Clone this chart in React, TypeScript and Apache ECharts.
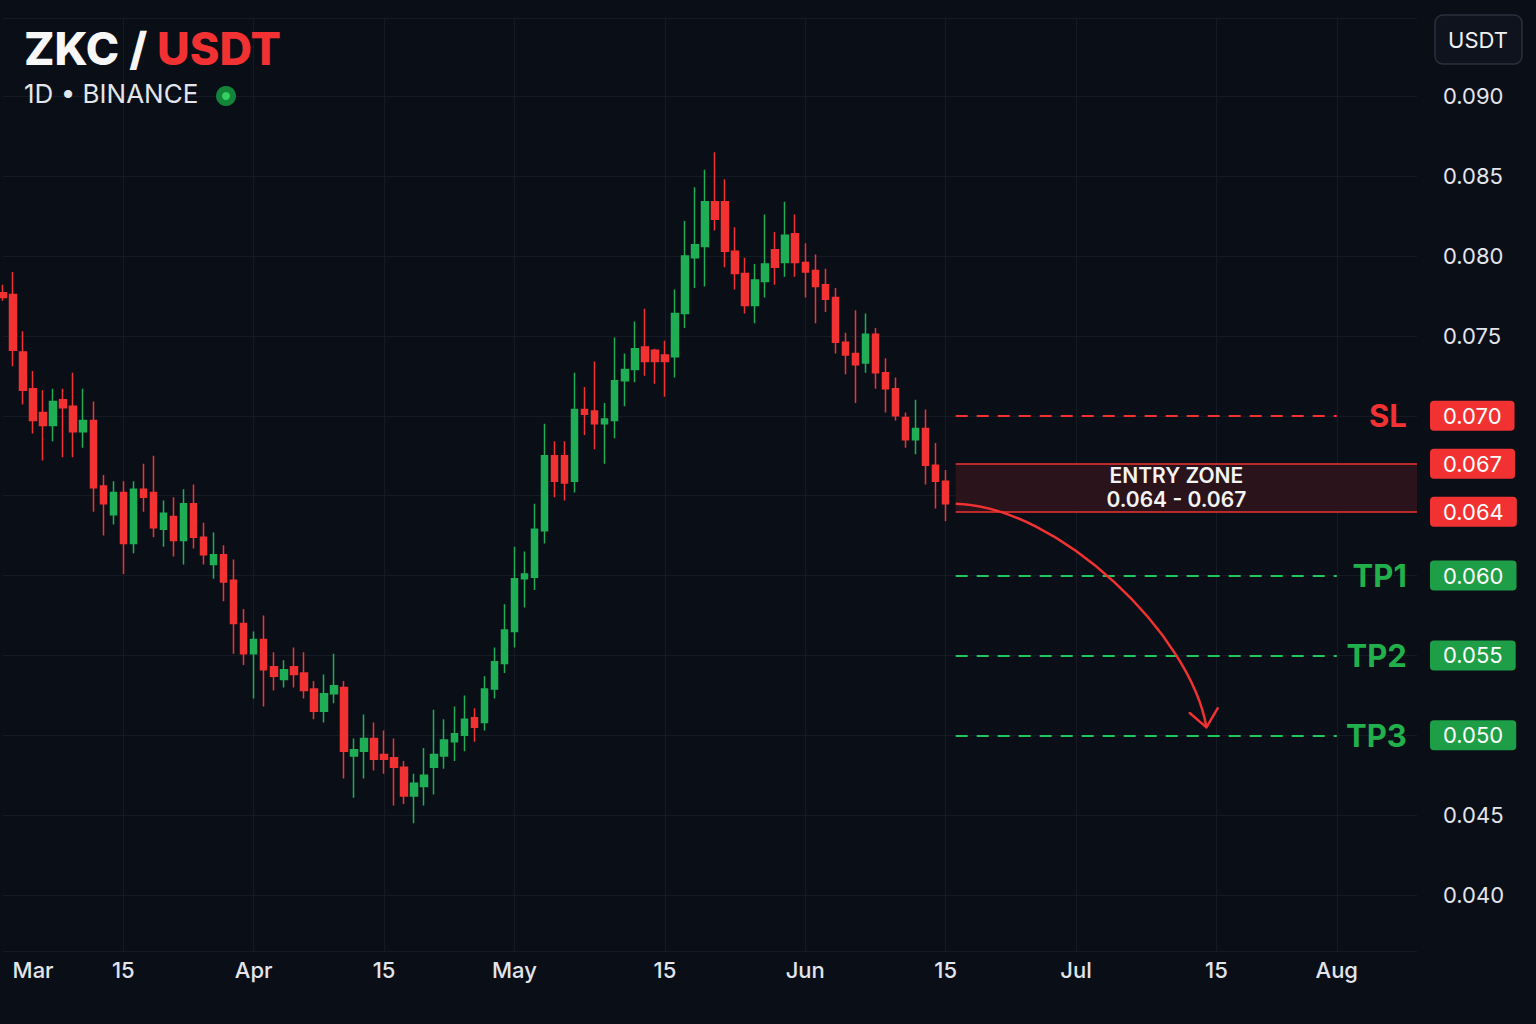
import React, { useEffect, useRef } from 'react';
import * as echarts from 'echarts';

// ---- data (USDT prices, one candle per slot) ----
const opens = [
  0.0777, 0.0776, 0.0740, 0.0717, 0.0702, 0.0694, 0.0710, 0.0706, 0.0690, 0.0697,
  0.0656, 0.0638, 0.0652, 0.0620, 0.0654, 0.0652, 0.0629, 0.0637, 0.0622, 0.0645,
  0.0624, 0.0607, 0.0613, 0.0597, 0.0570, 0.0551, 0.0560, 0.0543, 0.0535, 0.0543,
  0.0539, 0.0529, 0.0515, 0.0526, 0.0530, 0.0487, 0.0490, 0.0498, 0.0488, 0.0486,
  0.0480, 0.0462, 0.0468, 0.0480, 0.0487, 0.0496, 0.0500, 0.0511, 0.0508, 0.0529,
  0.0545, 0.0565, 0.0598, 0.0599, 0.0628, 0.0675, 0.0675, 0.0659, 0.0704, 0.0703,
  0.0695, 0.0697, 0.0722, 0.0729, 0.0743, 0.0741, 0.0738, 0.0737, 0.0764, 0.0799,
  0.0806, 0.0834, 0.0834, 0.0803, 0.0789, 0.0769, 0.0784, 0.0804, 0.0796, 0.0814,
  0.0796, 0.0791, 0.0782, 0.0774, 0.0746, 0.0739, 0.0733, 0.0751, 0.0727, 0.0717,
  0.0699, 0.0685, 0.0692, 0.0669, 0.0659,
];
const closes = [
  0.0774, 0.0741, 0.0716, 0.0697, 0.0694, 0.0709, 0.0705, 0.0690, 0.0697, 0.0655,
  0.0645, 0.0652, 0.0620, 0.0654, 0.0649, 0.0630, 0.0639, 0.0622, 0.0645, 0.0624,
  0.0613, 0.0613, 0.0596, 0.0570, 0.0551, 0.0560, 0.0541, 0.0537, 0.0541, 0.0538,
  0.0528, 0.0515, 0.0526, 0.0531, 0.0490, 0.0491, 0.0498, 0.0485, 0.0485, 0.0480,
  0.0462, 0.0470, 0.0475, 0.0488, 0.0497, 0.0501, 0.0510, 0.0505, 0.0529, 0.0546,
  0.0566, 0.0598, 0.0601, 0.0629, 0.0675, 0.0659, 0.0658, 0.0704, 0.0701, 0.0695,
  0.0698, 0.0722, 0.0729, 0.0742, 0.0734, 0.0734, 0.0734, 0.0764, 0.0800, 0.0807,
  0.0834, 0.0823, 0.0803, 0.0789, 0.0769, 0.0785, 0.0795, 0.0793, 0.0813, 0.0796,
  0.0790, 0.0781, 0.0773, 0.0746, 0.0738, 0.0732, 0.0751, 0.0727, 0.0717, 0.0700,
  0.0685, 0.0692, 0.0669, 0.0659, 0.0645,
];
const lows = [
  0.0772, 0.0731, 0.0707, 0.0689, 0.0672, 0.0684, 0.0674, 0.0674, 0.0680, 0.0640,
  0.0625, 0.0632, 0.0601, 0.0614, 0.0640, 0.0624, 0.0618, 0.0612, 0.0607, 0.0617,
  0.0607, 0.0598, 0.0584, 0.0551, 0.0544, 0.0523, 0.0518, 0.0528, 0.0530, 0.0530,
  0.0523, 0.0510, 0.0508, 0.0520, 0.0473, 0.0461, 0.0473, 0.0478, 0.0476, 0.0456,
  0.0457, 0.0445, 0.0456, 0.0463, 0.0479, 0.0484, 0.0490, 0.0496, 0.0503, 0.0523,
  0.0539, 0.0555, 0.0580, 0.0591, 0.0620, 0.0649, 0.0647, 0.0652, 0.0688, 0.0679,
  0.0670, 0.0686, 0.0706, 0.0721, 0.0725, 0.0720, 0.0712, 0.0724, 0.0755, 0.0780,
  0.0781, 0.0816, 0.0793, 0.0779, 0.0764, 0.0758, 0.0774, 0.0782, 0.0787, 0.0787,
  0.0774, 0.0758, 0.0765, 0.0739, 0.0726, 0.0708, 0.0727, 0.0717, 0.0702, 0.0697,
  0.0680, 0.0676, 0.0657, 0.0642, 0.0634,
];
const highs = [
  0.0782, 0.0790, 0.0753, 0.0728, 0.0716, 0.0717, 0.0717, 0.0727, 0.0717, 0.0709,
  0.0663, 0.0659, 0.0659, 0.0659, 0.0670, 0.0675, 0.0647, 0.0649, 0.0654, 0.0657,
  0.0633, 0.0627, 0.0619, 0.0610, 0.0579, 0.0565, 0.0575, 0.0552, 0.0547, 0.0555,
  0.0552, 0.0534, 0.0538, 0.0551, 0.0534, 0.0498, 0.0513, 0.0508, 0.0503, 0.0498,
  0.0484, 0.0476, 0.0492, 0.0516, 0.0510, 0.0518, 0.0525, 0.0517, 0.0537, 0.0555,
  0.0582, 0.0618, 0.0615, 0.0645, 0.0695, 0.0684, 0.0684, 0.0727, 0.0718, 0.0734,
  0.0708, 0.0749, 0.0739, 0.0759, 0.0767, 0.0742, 0.0747, 0.0779, 0.0822, 0.0843,
  0.0854, 0.0865, 0.0848, 0.0818, 0.0799, 0.0795, 0.0826, 0.0815, 0.0834, 0.0826,
  0.0808, 0.0801, 0.0792, 0.0780, 0.0752, 0.0766, 0.0764, 0.0755, 0.0736, 0.0724,
  0.0702, 0.0710, 0.0704, 0.0683, 0.0666,
];

const slotCount = 142; // candle slots incl. empty future slots
const xTickLabels = ['Mar', '15', 'Apr', '15', 'May', '15', 'Jun', '15', 'Jul', '15', 'Aug'];
const xTickSlots = [3, 12, 25, 38, 51, 66, 80, 94, 107, 121, 133];

const levelNames = ['SL', 'TP1', 'TP2', 'TP3'];
const levelValues = [0.07, 0.06, 0.055, 0.05];
const levelIsStop = [true, false, false, false];
const entryZone = [0.064, 0.067];
const levelStartSlot = 95;
const levelEndSlot = 133;
const zoneEndSlot = 141;
const arrowTarget = [120, 0.0505];
const yHiddenLabels = [0.05, 0.055, 0.06, 0.065, 0.07];

// ---- styles ----
const BG = '#0a0e17';
const GRID = '#151a25';
const RED = '#f23232';
const GREEN = '#1fae55';
const GREEN_LINE = '#22c55e';
const GREEN_TEXT = '#21b04b';
const GREEN_TAG = '#1e9f47';
const TEXT = '#e2e5eb';
const FONT = 'Inter, "Noto Sans", Roboto, sans-serif';

export default function App() {
  const ref = useRef<HTMLDivElement>(null);

  useEffect(() => {
    if (!ref.current) return;
    const chart = echarts.init(ref.current, null, { renderer: 'svg' });

    const slots = Array.from({ length: slotCount }, (_, i) => String(i));
    const tickMap: Record<number, string> = {};
    xTickSlots.forEach((s, i) => (tickMap[s] = xTickLabels[i]));
    const gridSlots = new Set(xTickSlots.slice(1));
    const hiddenKeys = new Set(yHiddenLabels.map((v) => Math.round(v * 10000)));

    const candles = opens.map((o, i) => [o, closes[i], lows[i], highs[i]]);

    const tag = (v: number, bg: string) => ({
      show: true,
      position: 'end',
      distance: 13,
      formatter: v.toFixed(3),
      color: '#ffffff',
      backgroundColor: bg,
      borderRadius: 4,
      padding: [4, 13, 4, 13],
      fontSize: 22,
      lineHeight: 22,
      fontFamily: FONT,
    });

    const markLines: any[] = [];
    levelValues.forEach((v, i) => {
      const stop = levelIsStop[i];
      markLines.push([
        {
          coord: [levelStartSlot, v],
          lineStyle: { color: stop ? RED : GREEN_LINE, width: 2, type: [12, 9] },
          label: {
            show: true,
            position: 'end',
            distance: 70,
            align: 'right',
            formatter: levelNames[i],
            color: stop ? RED : GREEN_TEXT,
            fontSize: 31,
            fontWeight: 700,
            fontFamily: FONT,
          },
        },
        { coord: [levelEndSlot, v] },
      ]);
      markLines.push([
        {
          coord: [levelEndSlot, v],
          lineStyle: { color: 'rgba(0,0,0,0)', width: 0 },
          label: tag(v, stop ? RED : GREEN_TAG),
        },
        { coord: [zoneEndSlot, v] },
      ]);
    });
    entryZone.forEach((v) => {
      markLines.push([
        {
          coord: [levelStartSlot, v],
          lineStyle: { color: RED, width: 1.5, type: 'solid' },
          label: tag(v, RED),
        },
        { coord: [zoneEndSlot, v] },
      ]);
    });

    const staticGraphics: any[] = [
      { type: 'circle', id: 'dotOuter', z: 100, shape: { cx: 226, cy: 96, r: 10 }, style: { fill: '#13853a' } },
      { type: 'circle', id: 'dotInner', z: 101, shape: { cx: 226, cy: 96, r: 4 }, style: { fill: '#37d05f' } },
      {
        type: 'rect',
        id: 'unitBox',
        z: 100,
        shape: { x: 1435, y: 15, width: 87, height: 49, r: 8 },
        style: { fill: '#0e131d', stroke: '#2a303c', lineWidth: 1.5 },
      },
      {
        type: 'text',
        id: 'unitText',
        z: 101,
        x: 1478,
        y: 40,
        style: {
          text: 'USDT',
          fill: '#f0f1f4',
          font: `22px ${FONT}`,
          align: 'center',
          verticalAlign: 'middle',
        },
      },
    ];

    const option: any = {
      animation: false,
      backgroundColor: BG,
      textStyle: { fontFamily: FONT },
      title: {
        left: 19,
        top: 20,
        text: '{w|ZKC / }{r|USDT}',
        textStyle: {
          rich: {
            w: { color: '#f7f7f7', fontSize: 45, fontWeight: 800, fontFamily: FONT, lineHeight: 46 },
            r: { color: RED, fontSize: 45, fontWeight: 800, fontFamily: FONT, lineHeight: 46 },
          },
        },
        subtext: '1D • BINANCE',
        subtextStyle: { color: TEXT, fontSize: 26, fontFamily: FONT, lineHeight: 26 },
        itemGap: 10,
      },
      grid: { left: 3, right: 119, top: 18, bottom: 73, containLabel: false, outerBoundsMode: 'none' },
      xAxis: {
        type: 'category',
        data: slots,
        boundaryGap: false,
        axisLine: { show: false },
        axisTick: { show: false },
        axisLabel: {
          interval: (i: number) => tickMap[i] !== undefined,
          formatter: (_v: string, i: number) => tickMap[i] ?? '',
          color: TEXT,
          fontSize: 22,
          fontWeight: 500,
          margin: 8,
        },
        splitLine: {
          show: true,
          interval: (i: number) => gridSlots.has(i),
          lineStyle: { color: GRID, width: 1 },
        },
      },
      yAxis: {
        type: 'value',
        position: 'right',
        min: 0.0365,
        max: 0.0949,
        splitNumber: 12,
        minInterval: 0.005,
        maxInterval: 0.005,
        axisLine: { show: false },
        axisTick: { show: false },
        splitLine: { show: true, lineStyle: { color: GRID, width: 1 } },
        axisLabel: {
          margin: 26,
          color: TEXT,
          fontSize: 22,
          showMinLabel: false,
          showMaxLabel: false,
          formatter: (v: number) => (hiddenKeys.has(Math.round(v * 10000)) ? '' : v.toFixed(3)),
        },
      },
      series: [
        {
          type: 'candlestick',
          data: candles,
          barWidth: 7,
          itemStyle: {
            color: GREEN,
            color0: RED,
            borderColor: GREEN,
            borderColor0: RED,
            borderWidth: 1.5,
          },
          markLine: {
            silent: true,
            symbol: ['none', 'none'],
            animation: false,
            data: markLines,
          },
          markArea: {
            silent: true,
            animation: false,
            data: [
              [
                {
                  coord: [levelStartSlot, entryZone[1]],
                  itemStyle: { color: '#2a131a' },
                  label: {
                    show: true,
                    position: 'inside',
                    offset: [-10, 0],
                    formatter: `ENTRY ZONE\n${entryZone[0].toFixed(3)} - ${entryZone[1].toFixed(3)}`,
                    color: '#f4f4f4',
                    fontSize: 21,
                    fontWeight: 600,
                    lineHeight: 24,
                    fontFamily: FONT,
                  },
                },
                { coord: [zoneEndSlot, entryZone[0]] },
              ],
            ],
          },
        },
      ],
      graphic: staticGraphics,
    };

    chart.setOption(option);

    // arrow from the last close towards the final target
    const p0 = chart.convertToPixel({ gridIndex: 0 }, [levelStartSlot, closes[closes.length - 1]]) as number[];
    const p3 = chart.convertToPixel({ gridIndex: 0 }, arrowTarget) as number[];
    const dx = p3[0] - p0[0];
    const dy = p3[1] - p0[1];
    const c1 = [p0[0] + 0.414 * dx, p0[1] + 0.013 * dy];
    const c2 = [p0[0] + 0.94 * dx, p0[1] + 0.59 * dy];
    let tx = p3[0] - c2[0];
    let ty = p3[1] - c2[1];
    const len = Math.hypot(tx, ty) || 1;
    tx /= len;
    ty /= len;
    const wing = (ang: number) => {
      const bx = -tx;
      const by = -ty;
      const ca = Math.cos(ang);
      const sa = Math.sin(ang);
      return [p3[0] + 22 * (bx * ca - by * sa), p3[1] + 22 * (bx * sa + by * ca)];
    };
    const a = (40 * Math.PI) / 180;

    chart.setOption({
      graphic: [
        ...staticGraphics,
        {
          type: 'bezierCurve',
          id: 'arrowCurve',
          z: 100,
          shape: { x1: p0[0], y1: p0[1], x2: p3[0], y2: p3[1], cpx1: c1[0], cpy1: c1[1], cpx2: c2[0], cpy2: c2[1] },
          style: { stroke: RED, lineWidth: 2.5, fill: 'none' },
        },
        {
          type: 'polyline',
          id: 'arrowHead',
          z: 100,
          shape: { points: [wing(a), [p3[0], p3[1]], wing(-a)] },
          style: { stroke: RED, lineWidth: 2.5, fill: 'none', lineJoin: 'round', lineCap: 'round' },
        },
      ],
    });

    return () => chart.dispose();
  }, []);

  return (
    <div
      ref={ref}
      style={{ position: 'fixed', left: 0, top: 0, width: 1536, height: 1024, background: BG }}
    />
  );
}
